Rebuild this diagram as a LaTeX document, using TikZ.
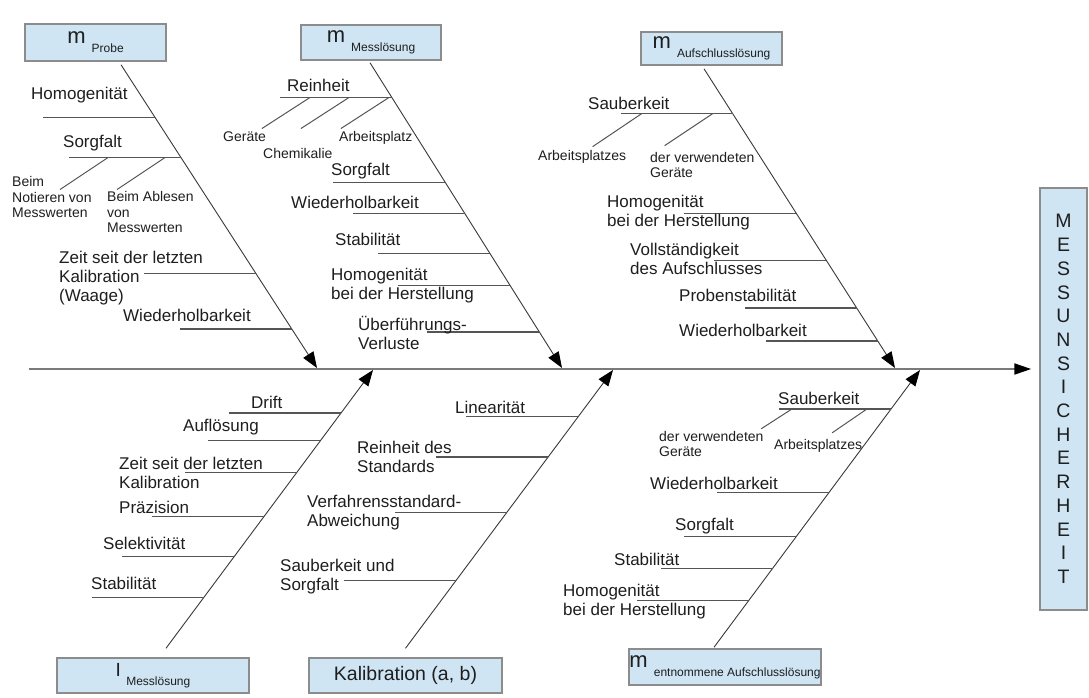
\documentclass[tikz,border=0pt]{standalone}
\usepackage{fontspec}
\setmainfont{Liberation Sans}
\usetikzlibrary{arrows.meta}

\definecolor{boxblue}{HTML}{CFE5F3}
\definecolor{boxedge}{HTML}{8C8C8C}
\definecolor{spinegray}{HTML}{7A7A7A}
\definecolor{bonegray}{HTML}{383838}
\definecolor{ribgray}{HTML}{555555}
\definecolor{txt}{HTML}{1E1E1E}

% tiefgestellter Index in den Kaesten
\newcommand{\boxsub}[1]{\raisebox{-9pt}{\fontsize{12}{13}\selectfont #1}}

\begin{document}
\begin{tikzpicture}[
    x=1pt, y=-1pt,
    cause/.style={draw=boxedge, line width=1.5pt, fill=boxblue, inner sep=0, text=txt, font=\fontsize{22}{24}\selectfont},
    spine/.style={draw=spinegray, line width=2pt, -{Triangle[length=17pt,width=11pt,black]}},
    bone/.style={draw=bonegray, line width=0.9pt, -{Triangle[length=16pt,width=12pt,black]}},
    rib/.style={draw=ribgray, line width=1.4pt},
    twig/.style={draw=ribgray, line width=1pt},
    lbl/.style={anchor=west, inner sep=0, align=left, text=txt, font=\fontsize{17}{19}\selectfont},
    sml/.style={lbl, font=\fontsize{14}{15.5}\selectfont}
]
\useasboundingbox (0,0) rectangle (1089,697);

% Kaesten
\node[cause, minimum width=141pt, minimum height=37pt] (probe) at (95.5,42.5) {m \boxsub{Probe}};
\node[cause, minimum width=140pt, minimum height=35pt] (msol) at (371,42.5) {m \boxsub{Messlösung}};
\node[cause, minimum width=141pt, minimum height=33pt] (aufs) at (711.5,48.5) {m \boxsub{Aufschlusslösung}};
\node[cause, minimum width=192pt, minimum height=35pt, font=\fontsize{19}{22}\selectfont] (imess) at (153,675.5) {I \boxsub{Messlösung}};
\node[cause, minimum width=193pt, minimum height=35pt, font=\fontsize{19.5}{22}\selectfont] (kalib) at (405.5,675.5) {Kalibration (a, b)};
\node[cause, minimum width=192pt, minimum height=36pt] (entn) at (725,667) {m \boxsub{entnommene Aufschlusslösung}};
\node[cause, minimum width=47pt, minimum height=422pt, align=center, font=\fontsize{19.5}{23.7}\selectfont] (effect) at (1063.5,399)
    {M\\E\\S\\S\\U\\N\\S\\I\\C\\H\\E\\R\\H\\E\\I\\T};

% Hauptgraete
\coordinate (tail) at (29,369);
\draw[spine, shorten >=8pt] (tail) -- (tail -| effect.west);

% m Probe
\coordinate (ta) at (317,368);
\draw[bone] ([xshift=25.5pt,yshift=-3pt]probe.south) -- (ta)
    coordinate[pos=.174] (a1) coordinate[pos=.306] (a2)
    coordinate[pos=.688] (a3) coordinate[pos=.872] (a4);
\foreach \r in {a1,a2,a3,a4} \draw[rib] (\r) -- ++(-112,0);
\draw[twig] ([xshift=-73pt]a2) -- ++(-48,32);
\draw[twig] ([xshift=-16pt]a2) -- ++(-48,32);

\node[lbl] (homA) at (31,95) {Homogenität};
\node[lbl] (sorgA) at (63,143) {Sorgfalt};
\node[sml] (notA) at (12,197) {Beim\\Notieren von\\Messwerten};
\node[sml] (ablA) at (107,212) {Beim Ablesen\\von\\Messwerten};
\node[lbl] (zeitA) at (59,278) {Zeit seit der letzten\\Kalibration\\(Waage)};
\node[lbl] (wdhA) at (123,315) {Wiederholbarkeit};

% m Messloesung
\coordinate (tb) at (562,368);
\draw[bone] ([xshift=-1pt,yshift=-2pt]msol.south) -- (tb)
    coordinate[pos=.114] (b1) coordinate[pos=.392] (b2)
    coordinate[pos=.493] (b3) coordinate[pos=.624] (b4)
    coordinate[pos=.729] (b5) coordinate[pos=.882] (b6);
\foreach \r in {b1,b2,b3,b4,b5,b6} \draw[rib] (\r) -- ++(-112,0);
\foreach \s in {82,43,3} \draw[twig] ([xshift=-\s pt]b1) -- ++(-48,31);

\node[lbl] (reinB) at (287,85) {Reinheit};
\node[sml] (gerB) at (223,137) {Geräte};
\node[sml] (chemB) at (263,153) {Chemikalie};
\node[sml] (platzB) at (339,138) {Arbeitsplatz};
\node[lbl] (sorgB) at (331,171) {Sorgfalt};
\node[lbl] (wdhB) at (291,202) {Wiederholbarkeit};
\node[lbl] (stabB) at (335,239) {Stabilität};
\node[lbl] (homB) at (331,285.5) {Homogenität\\bei der Herstellung};
\node[lbl] (verlB) at (358,332.5) {Überführungs-\\Verluste};

% m Aufschlussloesung
\coordinate (tc) at (895,368);
\draw[bone] ([xshift=-7.5pt,yshift=-3pt]aufs.south) -- (tc)
    coordinate[pos=.15] (c1) coordinate[pos=.483] (c2)
    coordinate[pos=.64] (c3) coordinate[pos=.80] (c4)
    coordinate[pos=.91] (c5);
\foreach \r in {c1,c2,c3,c4,c5} \draw[rib] (\r) -- ++(-112,0);
\draw[twig] ([xshift=-91pt]c1) -- ++(-49,33);
\draw[twig] ([xshift=-20pt]c1) -- ++(-48,32);

\node[lbl] (saubC) at (588,103) {Sauberkeit};
\node[sml] (platzC) at (538,157) {Arbeitsplatzes};
\node[sml] (gerC) at (650,165) {der verwendeten\\Geräte};
\node[lbl] (homC) at (607,212.5) {Homogenität\\bei der Herstellung};
\node[lbl] (vollC) at (630,259) {Vollständigkeit\\des Aufschlusses};
\node[lbl] (probC) at (679,295) {Probenstabilität};
\node[lbl] (wdhC) at (679,330) {Wiederholbarkeit};

% I Messloesung
\coordinate (td) at (373,370);
\draw[bone] ([xshift=13pt,yshift=9pt]imess.north) -- (td)
    coordinate[pos=.183] (d1) coordinate[pos=.330] (d2)
    coordinate[pos=.473] (d3) coordinate[pos=.631] (d4)
    coordinate[pos=.746] (d5) coordinate[pos=.846] (d6);
\foreach \r in {d1,d2,d3,d4,d5,d6} \draw[rib] (\r) -- ++(-112,0);

\node[lbl] (driftD) at (251,402) {Drift};
\node[lbl] (aufD) at (183,427) {Auflösung};
\node[lbl] (zeitD) at (119,472.5) {Zeit seit der letzten\\Kalibration};
\node[lbl] (praezD) at (119,507) {Präzision};
\node[lbl] (selD) at (103,543) {Selektivität};
\node[lbl] (stabD) at (91,583) {Stabilität};

% Kalibration
\coordinate (te) at (613,370);
\draw[bone] ([yshift=9pt]kalib.north) -- (te)
    coordinate[pos=.244] (e1) coordinate[pos=.487] (e2)
    coordinate[pos=.688] (e3) coordinate[pos=.832] (e4);
\foreach \r in {e1,e2,e3,e4} \draw[rib] (\r) -- ++(-112,0);

\node[lbl] (linE) at (455,407) {Linearität};
\node[lbl] (reinE) at (357,456.5) {Reinheit des\\Standards};
\node[lbl] (verfE) at (307,512.5) {Verfahrensstandard-\\Abweichung};
\node[lbl] (saubE) at (280,576.5) {Sauberkeit und\\Sorgfalt};

% m entnommene Aufschlussloesung
\coordinate (tf) at (920,370);
\draw[bone] ([xshift=-11pt,yshift=1pt]entn.north) -- (tf)
    coordinate[pos=.169] (f1) coordinate[pos=.284] (f2)
    coordinate[pos=.399] (f3) coordinate[pos=.558] (f4)
    coordinate[pos=.860] (f5);
\foreach \r in {f1,f2,f3,f4,f5} \draw[rib] (\r) -- ++(-112,0);
\draw[twig] ([xshift=-99pt]f5) -- ++(-31,20);
\draw[twig] ([xshift=-24pt]f5) -- ++(-35,24);

\node[lbl] (saubF) at (778,398) {Sauberkeit};
\node[sml] (gerF) at (659,444) {der verwendeten\\Geräte};
\node[sml] (platzF) at (774,446) {Arbeitsplatzes};
\node[lbl] (wdhF) at (650,483) {Wiederholbarkeit};
\node[lbl] (sorgF) at (675,526) {Sorgfalt};
\node[lbl] (stabF) at (614,559) {Stabilität};
\node[lbl] (homF) at (563,601.5) {Homogenität\\bei der Herstellung};

\end{tikzpicture}
\end{document}
